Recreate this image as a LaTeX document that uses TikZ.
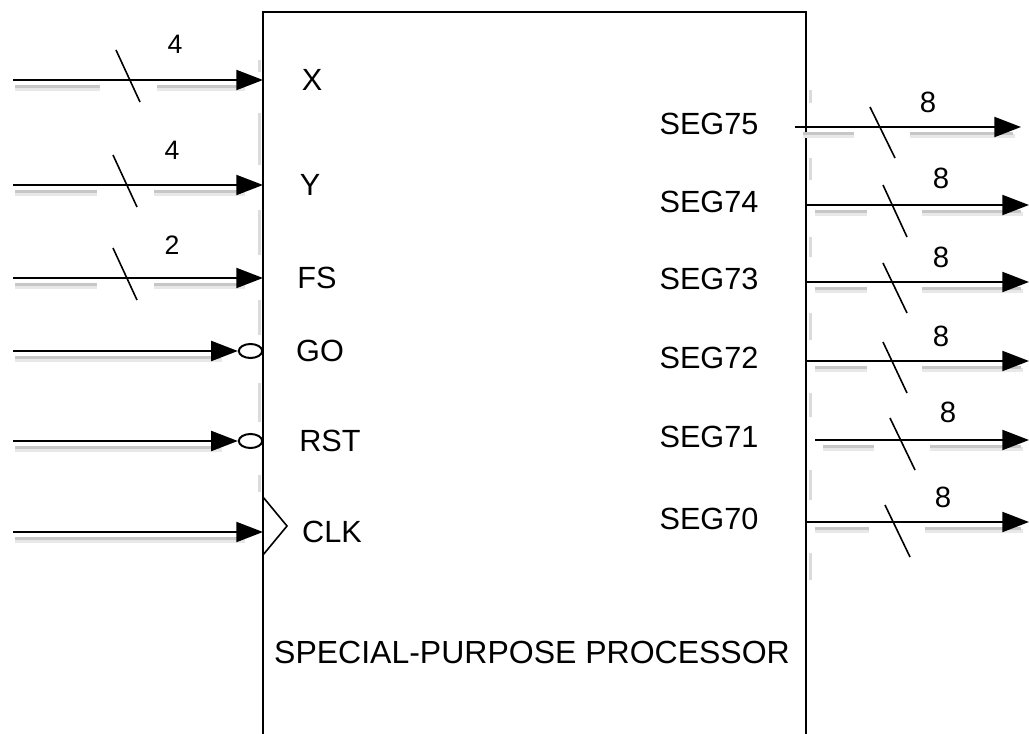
\documentclass[tikz,border=0pt]{standalone}
\usepackage{fontspec}
\setmainfont{Liberation Sans}
\usetikzlibrary{arrows.meta,shapes.geometric}
\begin{document}
\begin{tikzpicture}[x=0.75pt,y=-0.75pt,
  wire/.style={line width=1.5pt,-{Triangle[length=20pt,width=15pt]}},
  plain/.style={line width=1.5pt},
  shad/.style={line width=2.2pt,black!22},
  shadb/.style={line width=3pt,black!9},
  eshad/.style={line width=2.2pt,black!14},
  slashline/.style={line width=1.2pt},
  bubble/.style={draw,ellipse,line width=1.5pt,minimum width=17.5pt,minimum height=10.5pt,inner sep=0pt},
  port/.style={font=\fontsize{23}{26}\selectfont,inner sep=0pt},
  busw/.style={font=\fontsize{20}{24}\selectfont,inner sep=0pt},
  busv/.style={font=\fontsize{22}{24}\selectfont,inner sep=0pt},
  title/.style={font=\fontsize{24}{28}\selectfont,inner sep=0pt}]
\useasboundingbox (0,0) rectangle (1029,734);
\clip (0,0) rectangle (1029,734);
\fill[white] (0,0) rectangle (1029,734);

% ---- faint edge shadows of the box
\foreach \a/\b in {60/72,113/165,210/255,300/335,383/422,475/492}
  \draw[eshad] (259.5,\a) -- (259.5,\b);
\foreach \a/\b in {90/103,158/180,237/257,313/340,393/417,470/500,553/580}
  \draw[eshad] (810.5,\a) -- (810.5,\b);

% ---- box (open below the frame)
\coordinate (bl) at (263,745);
\coordinate (tl) at (263,12);
\coordinate (tr) at (806,12);
\coordinate (br) at (806,745);
\draw[plain] (bl) -- (tl) -- (tr) -- (br);
\node[title] (ttl) at (532,652) {SPECIAL-PURPOSE PROCESSOR};

% ---- bus inputs
\foreach \nm/\y/\sa/\sb/\wn/\wx/\wy/\lx in {X/80/116/140/4/175/44/312, Y/185/113/137/4/172/150/310, FS/278/113/137/2/172/245/317}{
  \draw[shadb] (15,\y+9) -- (\sa-16,\y+9);
  \draw[shadb] (\sb+17,\y+9) -- (245,\y+9);
  \draw[shad] (15,\y+6.5) -- (\sa-16,\y+6.5);
  \draw[shad] (\sb+17,\y+6.5) -- (242,\y+6.5);
  \coordinate (src\nm) at (13,\y);
  \coordinate (in\nm) at (263,\y);
  \draw[wire] (src\nm) -- (in\nm);
  \coordinate (sa\nm) at (\sa,\y-30);
  \coordinate (sb\nm) at (\sb,\y+22);
  \draw[slashline] (sa\nm) -- (sb\nm);
  \node[busw] (w\nm) at (\wx,\wy) {\wn};
  \node[port] (l\nm) at (\lx,\y) {\nm};
}

% ---- active-low inputs
\foreach \nm/\y/\lx in {GO/351/320, RST/441/330}{
  \draw[shadb] (15,\y+9) -- (222,\y+9);
  \draw[shad] (15,\y+6.5) -- (220,\y+6.5);
  \coordinate (src\nm) at (13,\y);
  \node[bubble] (b\nm) at (250.5,\y) {};
  \draw[wire] (src\nm) -- (b\nm.west);
  \node[port] (l\nm) at (\lx,\y) {\nm};
}

% ---- clock
\draw[shadb] (15,541) -- (245,541);
\draw[shad] (15,538.5) -- (242,538.5);
\coordinate (srcCLK) at (13,532);
\coordinate (inCLK) at (263,532);
\draw[wire] (srcCLK) -- (inCLK);
\coordinate (ck1) at (263,497);
\coordinate (ck2) at (287,526);
\coordinate (ck3) at (263,555);
\draw[line width=1.2pt] (ck1) -- (ck2) -- (ck3);
\node[port] (lCLK) at (332,532) {CLK};

% ---- outputs
\foreach \nm/\y/\xs/\xe/\sa/\say/\sb/\sby/\wx/\wy in {
  SEG75/127/795/1021/870/107/895/158/928/102,
  SEG74/205/807/1029/883/185/907/237/941/178,
  SEG73/282/807/1029/883/263/907/313/941/257,
  SEG72/361/807/1029/883/342/907/393/941/336,
  SEG71/440/815/1029/890/418/915/470/948/412,
  SEG70/522/807/1029/885/505/910/557/943/497}{
  \draw[shadb] (\xs+8,\y+9) -- (\sa-16,\y+9);
  \draw[shadb] (\sb+15,\y+9) -- (\xe-6,\y+9);
  \draw[shad] (\xs+8,\y+6.5) -- (\sa-16,\y+6.5);
  \draw[shad] (\sb+15,\y+6.5) -- (\xe-8,\y+6.5);
  \coordinate (out\nm) at (\xs,\y);
  \coordinate (dst\nm) at (\xe,\y);
  \draw[wire] (out\nm) -- (dst\nm);
  \coordinate (sa\nm) at (\sa,\say);
  \coordinate (sb\nm) at (\sb,\sby);
  \draw[slashline] (sa\nm) -- (sb\nm);
  \node[busv] (w\nm) at (\wx,\wy) {8};
  \node[port] (l\nm) at (709,\y-3) {\nm};
}
\end{tikzpicture}
\end{document}
